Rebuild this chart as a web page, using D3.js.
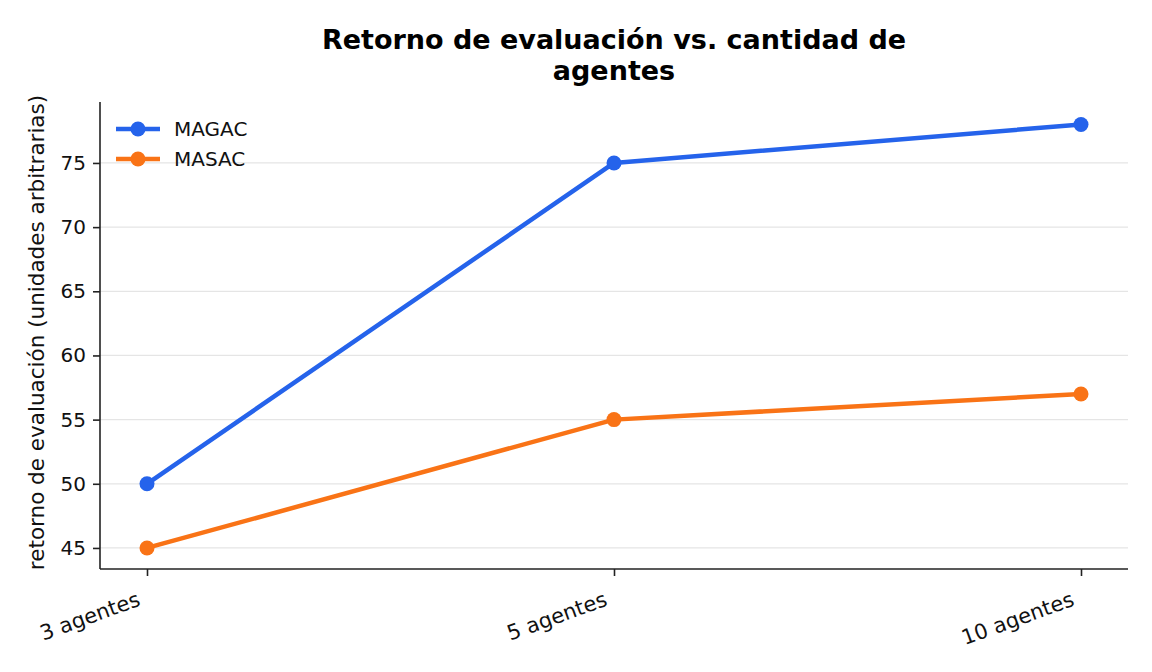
<!DOCTYPE html>
<html>
<head>
<meta charset="utf-8">
<script src="https://cdn.jsdelivr.net/npm/d3@7"></script>
<style>
  body { margin: 0; background: #fff; }
  svg { font-family: "DejaVu Sans", sans-serif; }
</style>
</head>
<body>
<div id="chart"></div>
<script>
const categories = ["3 agentes", "5 agentes", "10 agentes"];
const magac = [50, 75, 78];
const masac = [45, 55, 57];
const yTicks = [45, 50, 55, 60, 65, 70, 75];

const series = [
  { name: "MAGAC", values: magac, color: "#2563eb" },
  { name: "MASAC", values: masac, color: "#f97316" },
];

const width = 1152, height = 672;
const margin = { top: 102, right: 24, bottom: 103, left: 100 };
const innerWidth = width - margin.left - margin.right;
const innerHeight = height - margin.top - margin.bottom;

const svg = d3.select("#chart").append("svg")
  .attr("width", width).attr("height", height);

const g = svg.append("g").attr("transform", `translate(${margin.left},${margin.top})`);

const x = d3.scalePoint().domain(categories).range([47, innerWidth - 47]);
const y = d3.scaleLinear().domain([43.36, 79.75]).range([innerHeight, 0]);

// grid
g.selectAll(".grid").data(yTicks).enter().append("line")
  .attr("x1", 0).attr("x2", innerWidth)
  .attr("y1", d => y(d)).attr("y2", d => y(d))
  .attr("stroke", "#e5e5e5").attr("stroke-width", 1.2);

// axes
const yAxis = g.append("g")
  .call(d3.axisLeft(y).tickValues(yTicks).tickSize(7).tickPadding(7));
const xAxis = g.append("g").attr("transform", `translate(0,${innerHeight})`)
  .call(d3.axisBottom(x).tickSize(7).tickPadding(6));

[xAxis, yAxis].forEach(a => {
  a.select(".domain").attr("stroke", "#222").attr("stroke-width", 1.6);
  a.selectAll(".tick line").attr("stroke", "#222").attr("stroke-width", 1.6);
  a.selectAll("text").attr("fill", "#111").style("font-size", "20px")
    .style("font-family", "DejaVu Sans, sans-serif");
});
xAxis.select(".domain").attr("d", `M0,0H${innerWidth}`);
yAxis.select(".domain").attr("d", `M0,${innerHeight}V0`);

xAxis.selectAll(".tick text")
  .style("font-size", "21px")
  .attr("text-anchor", "end")
  .attr("dy", "0")
  .attr("x", 0).attr("y", 0)
  .attr("transform", "translate(-6,36) rotate(-20)");

// lines
const line = d3.line().x((d, i) => x(categories[i])).y(d => y(d));
series.forEach(s => {
  g.append("path").datum(s.values)
    .attr("d", line).attr("fill", "none")
    .attr("stroke", s.color).attr("stroke-width", 4.5)
    .attr("stroke-linejoin", "round").attr("stroke-linecap", "round");
  g.selectAll(null).data(s.values).enter().append("circle")
    .attr("cx", (d, i) => x(categories[i])).attr("cy", d => y(d))
    .attr("r", 7.5).attr("fill", s.color);
});

// legend
const legend = g.append("g").attr("transform", "translate(16,27)");
series.forEach((s, i) => {
  const row = legend.append("g").attr("transform", `translate(0,${i * 30})`);
  row.append("line").attr("x1", 0).attr("x2", 44)
    .attr("stroke", s.color).attr("stroke-width", 4.5);
  row.append("circle").attr("cx", 22).attr("r", 7.5).attr("fill", s.color);
  row.append("text").attr("x", 58).attr("y", 7)
    .style("font-size", "20px").attr("fill", "#111").text(s.name);
});

// title
svg.append("text").attr("x", 614).attr("y", 49)
  .attr("text-anchor", "middle").style("font-size", "27px").style("font-weight", "bold")
  .text("Retorno de evaluación vs. cantidad de");
svg.append("text").attr("x", 614).attr("y", 80)
  .attr("text-anchor", "middle").style("font-size", "27px").style("font-weight", "bold")
  .text("agentes");

// y label
svg.append("text")
  .attr("transform", `translate(44,${margin.top + innerHeight / 2 - 3}) rotate(-90)`)
  .attr("text-anchor", "middle").style("font-size", "21.5px").attr("fill", "#111")
  .text("retorno de evaluación (unidades arbitrarias)");
</script>
</body>
</html>
